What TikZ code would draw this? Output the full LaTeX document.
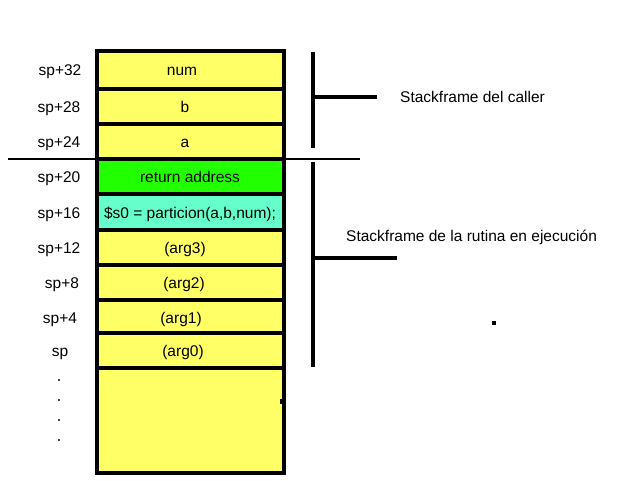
\documentclass[tikz,border=0pt]{standalone}
\usepackage{fontspec}
\setmainfont{Liberation Sans}
\usetikzlibrary{positioning}
\definecolor{amarillo}{RGB}{255,255,102}
\definecolor{verde}{RGB}{34,255,0}
\definecolor{turquesa}{RGB}{102,255,204}
\tikzstyle{celda} = [draw, line width=4pt, fill=amarillo]
\tikzstyle{texto} = [font=\fontsize{15.5}{18}\selectfont, inner sep=0pt, anchor=base]
\tikzstyle{llave} = [line width=4pt]

\begin{document}
\begin{tikzpicture}[x=1pt,y=-1pt]
		\useasboundingbox (0,0) rectangle (640,480);
		
		% Celdas de la pila
		\draw[celda] (97,368) rectangle (284,473);
		\draw[celda] (97,51) rectangle (284,89);
		\draw[celda] (97,89) rectangle (284,124);
		\draw[celda] (97,124) rectangle (284,159);
		\draw[celda, fill=verde] (97,159) rectangle (284,194);
		\draw[celda, fill=turquesa] (97,194) rectangle (284,230);
		\draw[celda] (97,230) rectangle (284,265);
		\draw[celda] (97,265) rectangle (284,300);
		\draw[celda] (97,300) rectangle (284,333);
		\draw[celda] (97,333) rectangle (284,368);
		\fill (280,399) rectangle (284,404);
		
		% Contenido de las celdas
		\node[texto] (num) at (182,75.5) {num};
		\node[texto] (b) at (185,112) {b};
		\node[texto] (a) at (185,147) {a};
		\node[texto] (ra) at (190,182) {return address};
		\node[texto] (s0) at (190,218) {\$s0 = particion(a,b,num);};
		\node[texto] (arg3) at (185,253) {(arg3)};
		\node[texto] (arg2) at (184,288) {(arg2)};
		\node[texto] (arg1) at (181,323) {(arg1)};
		\node[texto] (arg0) at (183,356) {(arg0)};
		
		% Desplazamientos respecto a sp
		\node[texto] (sp32) at (60,75.5) {sp+32};
		\node[texto] (sp28) at (59,112) {sp+28};
		\node[texto] (sp24) at (59,147) {sp+24};
		\node[texto] (sp20) at (59,182) {sp+20};
		\node[texto] (sp16) at (59,218) {sp+16};
		\node[texto] (sp12) at (59,253) {sp+12};
		\node[texto] (sp8) at (62,288) {sp+8};
		\node[texto] (sp4) at (60,323) {sp+4};
		\node[texto] (sp) at (60,356) {sp};
		\foreach \y in {380,400,420,440}
			\fill (59,\y) circle (1.1);
		
		% Linea divisoria entre stackframes
		\coordinate (divIzq) at (8,159);
		\coordinate (divDer) at (360,159);
		\draw[line width=1.5pt] (divIzq) -- (divDer);
		
		% Llave del caller
		\coordinate (callerArriba) at (313,52);
		\coordinate (callerAbajo) at (313,148);
		\coordinate (callerMedio) at (313,97);
		\coordinate (callerFin) at (377,97);
		\draw[llave] (callerArriba) -- (callerAbajo);
		\draw[llave] (callerMedio) -- (callerFin);
		\node[texto, anchor=base west] (caller) at (400,102) {Stackframe del caller};
		
		% Llave de la rutina
		\coordinate (rutinaArriba) at (313,162);
		\coordinate (rutinaAbajo) at (313,367);
		\coordinate (rutinaMedio) at (313,258);
		\coordinate (rutinaFin) at (397,258);
		\draw[llave] (rutinaArriba) -- (rutinaAbajo);
		\draw[llave] (rutinaMedio) -- (rutinaFin);
		\node[texto, anchor=base west] (rutina) at (346,241) {Stackframe de la rutina en ejecución};
		
		\fill (492,321) rectangle (496,325);
	\end{tikzpicture}
\end{document}
